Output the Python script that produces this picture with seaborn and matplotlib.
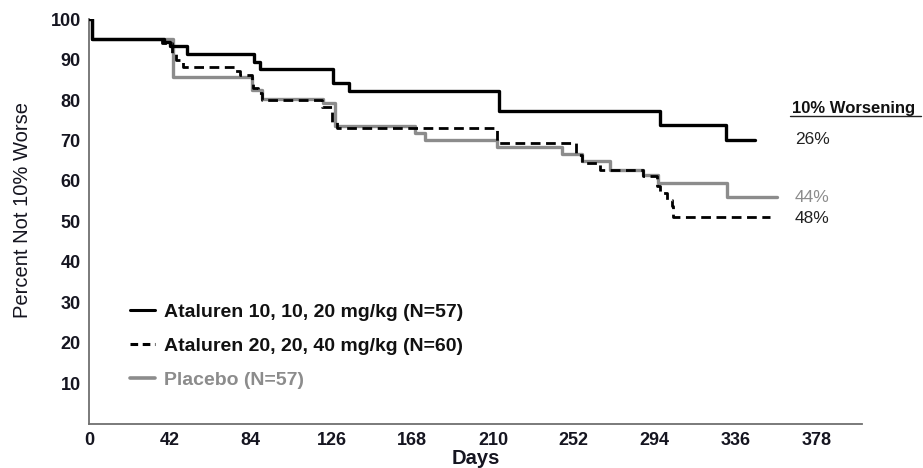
import matplotlib
matplotlib.use("Agg")
import matplotlib.pyplot as plt
import seaborn as sns
import pandas as pd
from matplotlib.lines import Line2D

sns.set_theme(style="white")
plt.rcParams['font.family'] = ['Liberation Sans', 'DejaVu Sans']

# ---- data ----
low_days = [0, 1.5, 39, 42, 51, 86, 89, 127, 135, 213, 297, 331, 346]
low_pct = [100, 95, 94.5, 93.5, 91.4, 89.5, 87.7, 84.2, 82.3, 77.2, 73.9, 70.2, 70.2]

high_days = [0, 1.5, 38, 43, 45, 49, 76, 78.5, 84.6, 85.2, 87.8, 89.8, 121, 126.1,
             128.7, 212, 253, 256, 265.6, 288, 295, 297, 300.3, 303, 303.7, 354]
high_pct = [100, 95, 94.2, 91.6, 90, 88.2, 87.1, 86.3, 85, 83, 81.7, 80.1, 78.2, 74.7,
            73.1, 69.5, 66.5, 64.5, 62.6, 61.2, 58.7, 57.1, 55.4, 53.8, 51.1, 51.1]

pbo_days = [0, 1.5, 43.8, 84.6, 89.8, 121.8, 127.9, 169.4, 174.6, 212, 245.7, 256.1,
            270.8, 288.1, 295.9, 331.4, 357.4]
pbo_pct = [100, 95, 85.8, 82.5, 80.3, 79.3, 73.6, 71.9, 70.2, 68.5, 66.7, 64.9,
           62.8, 61.6, 59.4, 56.1, 56.1]

labels = ["Ataluren 10, 10, 20 mg/kg (N=57)",
          "Ataluren 20, 20, 40 mg/kg (N=60)",
          "Placebo (N=57)"]
worsening = ["26%", "48%", "44%"]
x_ticks = [0, 42, 84, 126, 168, 210, 252, 294, 336, 378]
y_ticks = [10, 20, 30, 40, 50, 60, 70, 80, 90, 100]

df_low = pd.DataFrame({"day": low_days, "pct": low_pct})
df_high = pd.DataFrame({"day": high_days, "pct": high_pct})
df_pbo = pd.DataFrame({"day": pbo_days, "pct": pbo_pct})

fig = plt.figure(figsize=(9.23, 4.68), dpi=100)
ax = fig.add_axes([0.0964, 0.095, 0.8372, 0.8638])

GRAY = "#8c8c8c"
sns.lineplot(data=df_pbo, x="day", y="pct", ax=ax, color=GRAY, lw=2.4,
             drawstyle="steps-post", estimator=None, sort=False, zorder=2)
sns.lineplot(data=df_high, x="day", y="pct", ax=ax, color="black", lw=2.0,
             drawstyle="steps-post", estimator=None, sort=False, zorder=3,
             dashes=False, linestyle=(0, (3.5, 2)))
sns.lineplot(data=df_low, x="day", y="pct", ax=ax, color="black", lw=2.4,
             drawstyle="steps-post", estimator=None, sort=False, zorder=4)

ax.set_xlim(0, 401.6)
ax.set_ylim(0, 100)
ax.set_xticks(x_ticks)
ax.set_yticks(y_ticks)
for s in ["top", "right"]:
    ax.spines[s].set_visible(False)
for s in ["left", "bottom"]:
    ax.spines[s].set_color("#707070")
    ax.spines[s].set_linewidth(1.3)
ax.tick_params(axis="both", direction="out", length=4, width=1, color="#707070",
               labelsize=13, labelcolor="#151520", pad=2)
for lab in ax.get_xticklabels() + ax.get_yticklabels():
    lab.set_fontweight("bold")

ax.set_xlabel("Days", fontsize=14.5, fontweight="bold", color="#151520", labelpad=0)
ax.set_ylabel("Percent Not 10% Worse", fontsize=14.5, color="#151520")
ax.yaxis.set_label_coords(-0.074, 0.528)

handles = [Line2D([], [], color="black", lw=2.2),
           Line2D([], [], color="black", lw=2.2, linestyle=(0, (2.5, 1.5))),
           Line2D([], [], color=GRAY, lw=2.6)]
leg = ax.legend(handles, labels, loc="upper left", bbox_to_anchor=(0.0304, 0.341),
                frameon=False, handlelength=1.3, handletextpad=0.43,
                labelspacing=0.85, prop={"weight": "bold", "size": 14})
for t, c in zip(leg.get_texts(), ["#111111", "#111111", GRAY]):
    t.set_color(c)

fig.text(0.858, 0.769, "10% Worsening", fontsize=12, fontweight="bold",
         color="#111111", va="center", ha="left")
fig.add_artist(Line2D([0.856, 0.998], [0.752, 0.752], color="#222222", lw=1.0,
                      transform=fig.transFigure))
fig.text(0.861, 0.701, worsening[0], fontsize=12.5, color="#222222", va="center")
fig.text(0.861, 0.579, worsening[2], fontsize=12.5, color=GRAY, va="center")
fig.text(0.861, 0.534, worsening[1], fontsize=12.5, color="#222222", va="center")

fig.savefig("out.png", dpi=100)
